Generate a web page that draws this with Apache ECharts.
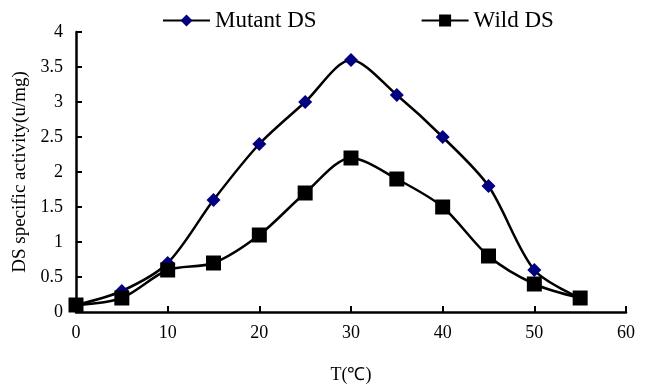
<!DOCTYPE html>
<html>
<head>
<meta charset="utf-8">
<script src="https://cdn.jsdelivr.net/npm/echarts@6/dist/echarts.min.js"></script>
<style>
  html, body { margin: 0; padding: 0; background: #fff; }
  #chart { width: 647px; height: 391px; }
</style>
</head>
<body>
<div id="chart"></div>
<script>
// temperature (°C) and DS specific activity (u/mg)
const temps = [0, 5, 10, 15, 20, 25, 30, 35, 40, 45, 50, 55];
const mutantDS = [0.1, 0.3, 0.7, 1.6, 2.4, 3.0, 3.6, 3.1, 2.5, 1.8, 0.6, 0.2];
const wildDS = [0.1, 0.2, 0.6, 0.7, 1.1, 1.7, 2.2, 1.9, 1.5, 0.8, 0.4, 0.2];

const font = 'Liberation Serif, Times New Roman, serif';

const chart = echarts.init(document.getElementById('chart'));

const toPairs = (vals) => temps.map((t, i) => [t, vals[i]]);

const option = {
    animation: false,
    textStyle: { fontFamily: font, color: '#000' },
    legend: {
        top: 4,
        left: 157,
        itemGap: 104,
        itemWidth: 47,
        itemHeight: 15,
        textStyle: { fontFamily: font, fontSize: 23, color: '#000' },
        data: ['Mutant DS', 'Wild DS'],
    },
    grid: { left: 76, right: 21, top: 32, bottom: 79 },
    xAxis: {
        type: 'value',
        min: 0,
        max: 60,
        interval: 10,
        name: 'T(℃)',
        nameLocation: 'middle',
        nameGap: 54,
        nameTextStyle: { fontFamily: font, fontSize: 18, color: '#000' },
        axisLine: { lineStyle: { color: '#000', width: 2.5 } },
        axisTick: { inside: true, length: 6, lineStyle: { color: '#000', width: 2 } },
        axisLabel: { fontFamily: font, fontSize: 18, color: '#000', margin: 12 },
        splitLine: { show: false },
    },
    yAxis: {
        type: 'value',
        min: 0,
        max: 4,
        interval: 0.5,
        name: 'DS specific activity(u/mg)',
        nameLocation: 'middle',
        nameGap: 42,
        nameTextStyle: { fontFamily: font, fontSize: 19, color: '#000' },
        axisLine: { lineStyle: { color: '#000', width: 2.5 } },
        axisTick: { inside: true, length: 6, lineStyle: { color: '#000', width: 2 } },
        axisLabel: { fontFamily: font, fontSize: 18, color: '#000', margin: 13 },
        splitLine: { show: false },
    },
    series: [
        {
            name: 'Mutant DS',
            type: 'line',
            smooth: 0.3,
            data: toPairs(mutantDS),
            symbol: 'diamond',
            symbolSize: 14,
            itemStyle: { color: '#000080' },
            lineStyle: { color: '#000', width: 2.5 },
            z: 3,
        },
        {
            name: 'Wild DS',
            type: 'line',
            smooth: 0.3,
            data: toPairs(wildDS),
            symbol: 'rect',
            symbolSize: 15,
            itemStyle: { color: '#000' },
            lineStyle: { color: '#000', width: 2.5 },
            z: 4,
        },
    ],
};

chart.setOption(option);
</script>
</body>
</html>
